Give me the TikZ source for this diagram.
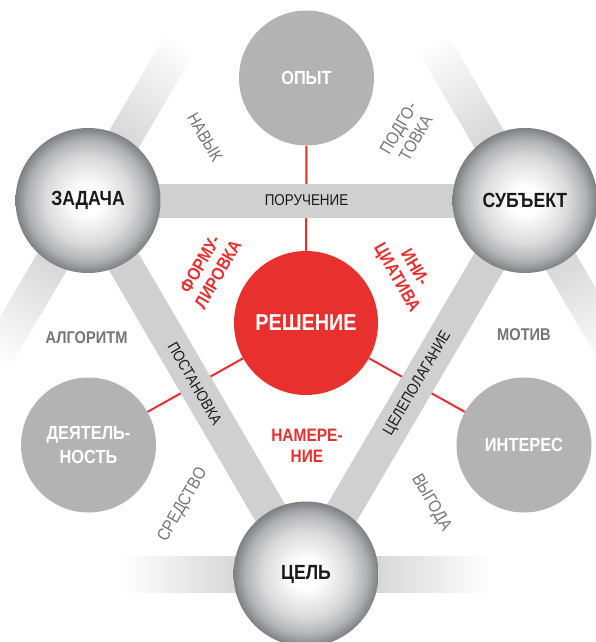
\documentclass[tikz,border=0pt]{standalone}
\usepackage{fontspec}
\setmainfont{Liberation Sans}[FakeStretch=0.86]
\usetikzlibrary{calc}
\definecolor{bandgray}{HTML}{D0D0D0}
\definecolor{fadegray}{HTML}{D4D4D4}
\definecolor{circgray}{HTML}{B3B3B3}
\definecolor{solred}{HTML}{E8302E}
\definecolor{labgray}{HTML}{757575}
\definecolor{txtblack}{HTML}{1A1A1A}
\definecolor{sphmid}{HTML}{DADADB}
\definecolor{sphmidb}{HTML}{B0B1B3}
\definecolor{sphedge}{HTML}{7E7F83}
\pgfdeclareradialshading{sphere}{\pgfpoint{0bp}{0bp}}{color(0bp)=(white); color(5bp)=(white); color(15bp)=(sphmid); color(21bp)=(sphmidb); color(25bp)=(sphedge); color(50bp)=(sphedge)}
\pgfdeclarehorizontalshading{fadeshade}{100bp}{color(0bp)=(fadegray); color(25bp)=(fadegray); color(68bp)=(white); color(100bp)=(white)}
\pgfdeclarelayer{bg}
\pgfdeclarelayer{mid}
\pgfsetlayers{bg,mid,main}
\tikzset{
  spherenode/.style={circle, minimum size=145pt, inner sep=0pt, shading=sphere,
    text=txtblack, font=\fontsize{20.5}{24}\selectfont\bfseries},
  graynode/.style={circle, minimum size=135pt, inner sep=0pt, fill=circgray,
    text=white, align=center, font=\fontsize{19}{24}\selectfont\bfseries},
  rednode/.style={circle, minimum size=144pt, inner sep=0pt, fill=solred,
    text=white, font=\fontsize{23}{26}\selectfont\bfseries},
  redline/.style={draw=solred, line width=2pt},
  band/.style={draw=bandgray, line width=34pt},
  bandlabel/.style={text=txtblack, font=\fontsize{15.6}{18}\selectfont},
  graylabel/.style={text=labgray, align=center, font=\fontsize{17.5}{20}\selectfont},
  graybold/.style={text=labgray, font=\fontsize{17}{20}\selectfont\bfseries},
  redlabel/.style={text=solred, align=center, font=\fontsize{18}{20.5}\selectfont\bfseries},
  fadeband/.style={shading=fadeshade, draw=none}
}
\begin{document}
\begin{tikzpicture}[x=1pt,y=1pt]
\useasboundingbox (0,0) rectangle (596,-642);
\clip (0,0) rectangle (596,-642);
% circles
\node[spherenode] (Z) at (88,-200.5) {ЗАДАЧА};
\node[spherenode] (S) at (525,-200.5) {СУБЪЕКТ};
\node[spherenode] (C) at (306,-574) {ЦЕЛЬ};
\node[graynode] (O) at (306.5,-78) {ОПЫТ};
\node[graynode] (D) at (88.5,-445) {ДЕЯТЕЛЬ-\\НОСТЬ};
\node[graynode] (I) at (524,-445) {ИНТЕРЕС};
\node[rednode] (R) at (306,-323) {РЕШЕНИЕ};
% red connectors
\begin{pgfonlayer}{bg}
\draw[redline] (O) -- (R);
\draw[redline] (D) -- (R);
\draw[redline] (I) -- (R);
\end{pgfonlayer}
% bands
\begin{pgfonlayer}{mid}
\begin{scope}[transform canvas={shift={(88,-200.5)},rotate=59.62}]
  \shade[fadeband] (60,-17) rectangle (205,17);
\end{scope}
\begin{scope}[transform canvas={shift={(88,-200.5)},rotate=239.62}]
  \shade[fadeband] (60,-17) rectangle (205,17);
\end{scope}
\begin{scope}[transform canvas={shift={(525,-200.5)},rotate=120.27}]
  \shade[fadeband] (60,-17) rectangle (205,17);
\end{scope}
\begin{scope}[transform canvas={shift={(525,-200.5)},rotate=-59.73}]
  \shade[fadeband] (60,-17) rectangle (205,17);
\end{scope}
\begin{scope}[transform canvas={shift={(306,-574)},rotate=180}]
  \shade[fadeband] (60,-18) rectangle (205,18);
\end{scope}
\begin{scope}[transform canvas={shift={(306,-574)},rotate=0}]
  \shade[fadeband] (60,-18) rectangle (205,18);
\end{scope}
\draw[band] (Z.center) -- (S.center);
\draw[band] (Z.center) -- (C.center);
\draw[band] (C.center) -- (S.center);
\end{pgfonlayer}
% band labels
\path (Z) -- node[bandlabel] (poruch) {ПОРУЧЕНИЕ} (S);
\path (Z.center) -- node[bandlabel, sloped, pos=0.49] (postan) {ПОСТАНОВКА} (C.center);
\path (C.center) -- node[bandlabel, sloped, pos=0.51] (celep) {ЦЕЛЕПОЛАГАНИЕ} (S.center);
% gray labels
\node[graylabel, rotate=-60] (navyk) at (205,-137) {НАВЫК};
\node[graylabel, rotate=60] (podgo) at (407,-133) {ПОДГО-\\ТОВКА};
\node[graybold] (algo) at (86.5,-337.5) {АЛГОРИТМ};
\node[graybold] (motiv) at (524,-335) {МОТИВ};
\node[graylabel, rotate=60] (sredstvo) at (183,-505) {СРЕДСТВО};
\node[graylabel, rotate=-60] (vygoda) at (431,-503) {ВЫГОДА};
% red labels
\node[redlabel, rotate=60] (form) at (209,-269) {ФОРМУ-\\ЛИРОВКА};
\node[redlabel, rotate=-60] (ini) at (405,-273) {ИНИ-\\ЦИАТИВА};
\node[redlabel] (namer) at (307,-446) {НАМЕРЕ-\\НИЕ};
\end{tikzpicture}
\end{document}
